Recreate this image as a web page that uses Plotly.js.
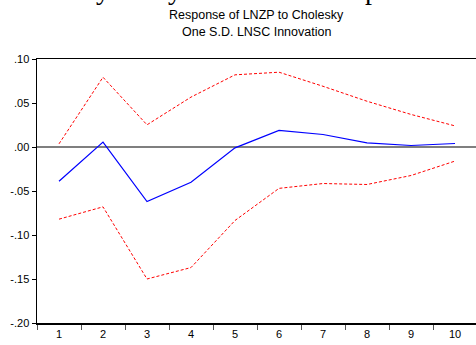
<!DOCTYPE html>
<html>
<head>
<meta charset="utf-8">
<script src="https://cdn.plot.ly/plotly-3.0.1.min.js"></script>
<style>html,body{margin:0;padding:0;background:#fff;}#chart{width:476px;height:345px;}</style>
</head>
<body>
<div id="chart"></div>
<script>
const periods = ['1','2','3','4','5','6','7','8','9','10'];
const response = [-0.039, 0.0055, -0.062, -0.040, -0.001, 0.0188, 0.0142, 0.0048, 0.0017, 0.004];
const upperBand = [0.0036, 0.0793, 0.0252, 0.0567, 0.082, 0.085, 0.069, 0.052, 0.037, 0.024];
const lowerBand = [-0.082, -0.068, -0.150, -0.137, -0.0835, -0.047, -0.0415, -0.0426, -0.0324, -0.016];
const yTickVals = [0.10, 0.05, 0.00, -0.05, -0.10, -0.15, -0.20];
const yTickText = ['.10', '.05', '.00', '-.05', '-.10', '-.15', '-.20'];
const titleLines = ['Response of LNZP to Cholesky', 'One S.D. LNSC Innovation'];
// clipped fragments of the page text above the chart (only descenders visible)
const clippedGlyphs = ['y', 'y', 'p'];
const clippedGlyphX = [103, 175, 372];

const traces = [
  {x: periods, y: upperBand, type: 'scatter', mode: 'lines', line: {color: '#ff0000', width: 1, dash: '3px,2px'}, hoverinfo: 'skip'},
  {x: periods, y: lowerBand, type: 'scatter', mode: 'lines', line: {color: '#ff0000', width: 1, dash: '3px,2px'}, hoverinfo: 'skip'},
  {x: periods, y: response, type: 'scatter', mode: 'lines', line: {color: '#0000ff', width: 1.2}, hoverinfo: 'skip'}
];

const plotW = 439, plotH = 264, mL = 37, mT = 59;
const annotations = [
  {text: titleLines[0], xref: 'paper', yref: 'paper', x: 0.5, y: 1 + (mT - 15) / plotH, xanchor: 'center', yanchor: 'middle', showarrow: false, font: {size: 12.5, family: 'Liberation Sans, Arial, sans-serif', color: '#000'}},
  {text: titleLines[1], xref: 'paper', yref: 'paper', x: 0.5, y: 1 + (mT - 32) / plotH, xanchor: 'center', yanchor: 'middle', showarrow: false, font: {size: 12.5, family: 'Liberation Sans, Arial, sans-serif', color: '#000'}}
];
clippedGlyphs.forEach((g, i) => {
  annotations.push({text: g, xref: 'paper', yref: 'paper', x: (clippedGlyphX[i] - mL) / plotW, y: 1 + (mT + 11) / plotH, xanchor: 'center', yanchor: 'middle', showarrow: false, font: {size: 28, family: 'Liberation Serif, Times New Roman, serif', color: '#000'}});
});

const layout = {
  width: 476, height: 345,
  margin: {l: mL, r: 0, t: mT, b: 22, pad: 0},
  paper_bgcolor: '#ffffff', plot_bgcolor: '#ffffff',
  showlegend: false,
  font: {family: 'Liberation Sans, Arial, sans-serif', color: '#000000', size: 11},
  xaxis: {
    type: 'category', range: [-0.5, 9.477], tickson: 'boundaries',
    showgrid: false, zeroline: false,
    showline: true, linecolor: '#000000', linewidth: 1.5, mirror: true,
    ticks: 'outside', ticklen: 5, tickcolor: '#555555', tickwidth: 1,
    tickfont: {size: 11, family: 'Liberation Sans, Arial, sans-serif'}
  },
  yaxis: {
    range: [-0.2, 0.1],
    tickvals: yTickVals, ticktext: yTickText,
    showgrid: false,
    zeroline: true, zerolinecolor: '#7f7f7f', zerolinewidth: 2,
    showline: true, linecolor: '#000000', linewidth: 1.5, mirror: false,
    ticks: 'outside', ticklen: 4, tickcolor: '#000000', tickwidth: 1,
    tickfont: {size: 11, family: 'Liberation Sans, Arial, sans-serif'}
  },
  annotations: annotations
};

Plotly.newPlot('chart', traces, layout, {staticPlot: true, displayModeBar: false});
</script>
</body>
</html>
